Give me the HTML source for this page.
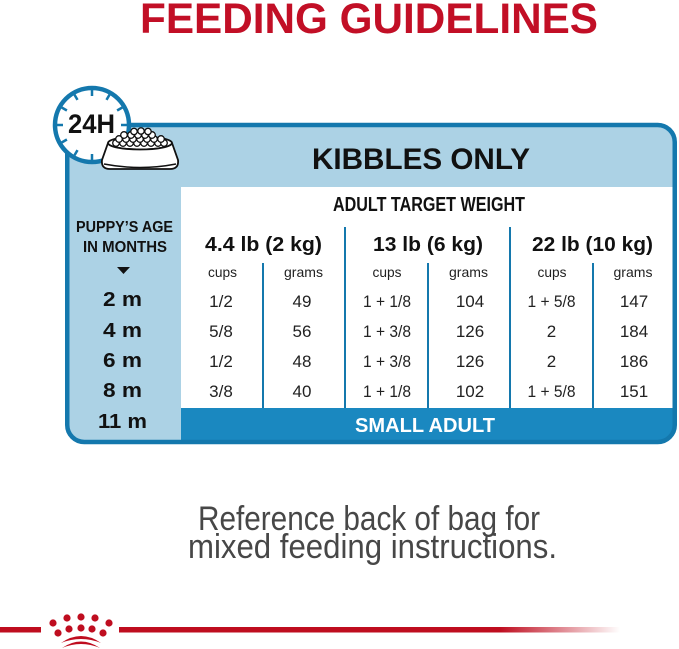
<!DOCTYPE html>
<html><head><meta charset="utf-8"><style>
html,body{margin:0;padding:0;background:#fff;}
svg{display:block;}
text{font-family:"Liberation Sans",sans-serif;}
</style></head><body>
<svg width="679" height="649" viewBox="0 0 679 649" xmlns="http://www.w3.org/2000/svg">
<defs>
<linearGradient id="fade" x1="0" x2="1" y1="0" y2="0">
 <stop offset="0" stop-color="#bf0d1f"/>
 <stop offset="0.76" stop-color="#bf0d1f"/>
 <stop offset="1" stop-color="#bf0d1f" stop-opacity="0"/>
</linearGradient>
<clipPath id="boxclip"><rect x="67.25" y="125" width="607.5" height="317" rx="17"/></clipPath>
</defs>

<!-- Title -->
<text x="140" y="33" font-size="43" font-weight="bold" fill="#c20f26" textLength="458" lengthAdjust="spacingAndGlyphs">FEEDING GUIDELINES</text>

<!-- Box -->
<rect x="67.25" y="125" width="607.5" height="317" rx="17" fill="#acd2e5"/>
<g clip-path="url(#boxclip)">
 <rect x="181" y="187" width="495" height="221" fill="#fff"/>
 <rect x="181" y="408" width="495" height="40" fill="#1a88c0"/>
</g>
<rect x="67.25" y="125" width="607.5" height="317" rx="17" fill="none" stroke="#1478ad" stroke-width="4.5"/>

<!-- Clock -->
<circle cx="92" cy="125" r="37" fill="#fff" stroke="#1478ad" stroke-width="4.5"/>
<g stroke="#1478ad" stroke-width="2.5" stroke-linecap="butt">
 <line x1="121" y1="125" x2="127" y2="125"/>
 <line x1="117.1" y1="139.5" x2="122.3" y2="142.5"/>
 <line x1="106.5" y1="150.1" x2="109.5" y2="155.3"/>
 <line x1="92" y1="154" x2="92" y2="160"/>
 <line x1="77.5" y1="150.1" x2="74.5" y2="155.3"/>
 <line x1="66.9" y1="139.5" x2="61.7" y2="142.5"/>
 <line x1="63" y1="125" x2="57" y2="125"/>
 <line x1="66.9" y1="110.5" x2="61.7" y2="107.5"/>
 <line x1="77.5" y1="99.9" x2="74.5" y2="94.7"/>
 <line x1="92" y1="96" x2="92" y2="90"/>
 <line x1="106.5" y1="99.9" x2="109.5" y2="94.7"/>
 <line x1="117.1" y1="110.5" x2="122.3" y2="107.5"/>
</g>
<text x="91.5" y="133" font-size="27" font-weight="bold" fill="#111" text-anchor="middle" textLength="47" lengthAdjust="spacingAndGlyphs">24H</text>

<!-- Bowl -->
<ellipse cx="140" cy="143" rx="32" ry="6.5" fill="#fff" stroke="#111" stroke-width="1.8"/>
<g fill="#fff" stroke="#111" stroke-width="1.3">
 <circle cx="116" cy="143" r="3.3"/><circle cx="123" cy="143" r="3.3"/><circle cx="130" cy="143" r="3.3"/><circle cx="137" cy="143" r="3.3"/><circle cx="144" cy="143" r="3.3"/><circle cx="151" cy="143" r="3.3"/><circle cx="158" cy="143" r="3.3"/><circle cx="164" cy="143" r="3.3"/>
 <circle cx="119" cy="139" r="3.3"/><circle cx="126" cy="139" r="3.3"/><circle cx="133" cy="139" r="3.3"/><circle cx="140" cy="139" r="3.3"/><circle cx="147" cy="139" r="3.3"/><circle cx="154" cy="139" r="3.3"/><circle cx="161" cy="139" r="3.3"/>
 <circle cx="124" cy="135" r="3.3"/><circle cx="131" cy="135" r="3.3"/><circle cx="138" cy="135" r="3.3"/><circle cx="145" cy="135" r="3.3"/><circle cx="152" cy="135" r="3.3"/>
 <circle cx="134" cy="131.5" r="3.2"/><circle cx="141" cy="131" r="3.2"/><circle cx="148" cy="131.5" r="3.2"/>
</g>
<path d="M108,143 A32,6.5 0 0 0 172,143 L178,160 Q179,169 170,169 L110,169 Q101,169 102,160 Z" fill="#fff" stroke="#111" stroke-width="1.8"/>
<path d="M104,164 Q140,171 176,164" fill="none" stroke="#111" stroke-width="1.5"/>

<!-- Header texts -->
<text x="421" y="169" font-size="30" font-weight="bold" fill="#111" text-anchor="middle" textLength="218" lengthAdjust="spacingAndGlyphs">KIBBLES ONLY</text>
<text x="429" y="211" font-size="20" font-weight="bold" fill="#111" text-anchor="middle" textLength="192" lengthAdjust="spacingAndGlyphs">ADULT TARGET WEIGHT</text>

<text x="263.5" y="251" font-size="20" font-weight="bold" fill="#111" text-anchor="middle" textLength="117" lengthAdjust="spacingAndGlyphs">4.4 lb (2 kg)</text>
<text x="428" y="251" font-size="20" font-weight="bold" fill="#111" text-anchor="middle" textLength="110" lengthAdjust="spacingAndGlyphs">13 lb (6 kg)</text>
<text x="592.5" y="251" font-size="20" font-weight="bold" fill="#111" text-anchor="middle" textLength="121" lengthAdjust="spacingAndGlyphs">22 lb (10 kg)</text>

<g font-size="14" fill="#222" text-anchor="middle">
 <text x="222.5" y="277" textLength="29" lengthAdjust="spacingAndGlyphs">cups</text>
 <text x="303.5" y="277" textLength="39" lengthAdjust="spacingAndGlyphs">grams</text>
 <text x="387" y="277" textLength="29" lengthAdjust="spacingAndGlyphs">cups</text>
 <text x="468.5" y="277" textLength="39" lengthAdjust="spacingAndGlyphs">grams</text>
 <text x="552" y="277" textLength="29" lengthAdjust="spacingAndGlyphs">cups</text>
 <text x="633" y="277" textLength="39" lengthAdjust="spacingAndGlyphs">grams</text>
</g>

<!-- Table lines -->
<g stroke="#1478ad" stroke-width="2">
 <line x1="345" y1="227" x2="345" y2="408"/>
 <line x1="510" y1="227" x2="510" y2="408"/>
 <line x1="263" y1="263" x2="263" y2="408"/>
 <line x1="428" y1="263" x2="428" y2="408"/>
 <line x1="593" y1="263" x2="593" y2="408"/>
</g>

<!-- Data -->
<g font-size="17" fill="#222" text-anchor="middle">
 <text x="221" y="307">1/2</text><text x="302" y="307">49</text><text x="387" y="307" textLength="48" lengthAdjust="spacingAndGlyphs">1 + 1/8</text><text x="470" y="307">104</text><text x="551.5" y="307" textLength="48" lengthAdjust="spacingAndGlyphs">1 + 5/8</text><text x="634" y="307">147</text>
 <text x="221" y="337">5/8</text><text x="302" y="337">56</text><text x="387" y="337" textLength="48" lengthAdjust="spacingAndGlyphs">1 + 3/8</text><text x="470" y="337">126</text><text x="551.5" y="337">2</text><text x="634" y="337">184</text>
 <text x="221" y="367">1/2</text><text x="302" y="367">48</text><text x="387" y="367" textLength="48" lengthAdjust="spacingAndGlyphs">1 + 3/8</text><text x="470" y="367">126</text><text x="551.5" y="367">2</text><text x="634" y="367">186</text>
 <text x="221" y="397">3/8</text><text x="302" y="397">40</text><text x="387" y="397" textLength="48" lengthAdjust="spacingAndGlyphs">1 + 1/8</text><text x="470" y="397">102</text><text x="551.5" y="397" textLength="48" lengthAdjust="spacingAndGlyphs">1 + 5/8</text><text x="634" y="397">151</text>
</g>

<!-- Left column -->
<text x="124.5" y="232" font-size="16" font-weight="bold" fill="#111" text-anchor="middle" textLength="97" lengthAdjust="spacingAndGlyphs">PUPPY’S AGE</text>
<text x="125" y="252" font-size="16" font-weight="bold" fill="#111" text-anchor="middle" textLength="84" lengthAdjust="spacingAndGlyphs">IN MONTHS</text>
<polygon points="117,267 130,267 123.5,274" fill="#111"/>
<g font-size="20" font-weight="bold" fill="#111" text-anchor="middle">
 <text x="122.5" y="306" textLength="39" lengthAdjust="spacingAndGlyphs">2 m</text>
 <text x="122.5" y="337" textLength="39" lengthAdjust="spacingAndGlyphs">4 m</text>
 <text x="122.5" y="367" textLength="39" lengthAdjust="spacingAndGlyphs">6 m</text>
 <text x="122.5" y="397" textLength="39" lengthAdjust="spacingAndGlyphs">8 m</text>
 <text x="122.5" y="428" textLength="49" lengthAdjust="spacingAndGlyphs">11 m</text>
</g>

<!-- Bar text -->
<text x="425" y="432" font-size="20" font-weight="bold" fill="#fff" text-anchor="middle" textLength="140" lengthAdjust="spacingAndGlyphs">SMALL ADULT</text>

<!-- Bottom text -->
<text x="198" y="530" font-size="34" fill="#474747" textLength="342" lengthAdjust="spacingAndGlyphs">Reference back of bag for</text>
<text x="188" y="558" font-size="34" fill="#474747" textLength="369" lengthAdjust="spacingAndGlyphs">mixed feeding instructions.</text>

<!-- Footer -->
<rect x="0" y="627" width="41" height="5.5" fill="#bf0d1f"/>
<rect x="119" y="627" width="501" height="5.5" fill="url(#fade)"/>
<g fill="#bf0d1f">
 <circle cx="67" cy="618" r="3.6"/><circle cx="81" cy="617" r="3.6"/><circle cx="95" cy="618" r="3.6"/>
 <circle cx="53" cy="623" r="3.6"/><circle cx="109" cy="623" r="3.6"/>
 <circle cx="58" cy="633" r="3.6"/><circle cx="69" cy="629" r="3.6"/><circle cx="81" cy="628" r="3.6"/><circle cx="92" cy="629" r="3.6"/><circle cx="103" cy="633" r="3.6"/>
 <path d="M61,643 Q81,629 101,643 Q81,635 61,643 Z"/>
 <path d="M62,648 Q81,635 100,648 Q81,640 62,648 Z"/>
</g>
</svg>
</body></html>
